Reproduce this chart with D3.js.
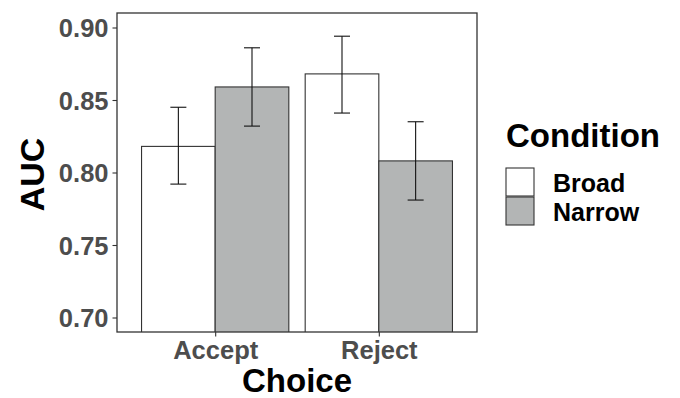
<!DOCTYPE html>
<html>
<head>
<meta charset="utf-8">
<script src="https://cdn.jsdelivr.net/npm/d3@7"></script>
<style>
  body { margin: 0; background: #fff; }
  text { font-family: "Liberation Sans", Arial, sans-serif; font-weight: bold; }
</style>
</head>
<body>
<svg id="chart" width="680" height="398"></svg>
<script>
// data
const choices = ['Accept', 'Reject'];
const conditions = ['Broad', 'Narrow'];
const auc = [[0.818, 0.859], [0.868, 0.808]];      // [choice][condition]
const lower = [[0.792, 0.832], [0.841, 0.781]];
const upper = [[0.845, 0.886], [0.894, 0.835]];
const yTicks = [0.70, 0.75, 0.80, 0.85, 0.90];

const fills = {Broad: '#ffffff', Narrow: '#b3b5b5'};
const panel = {left: 117, top: 13, right: 477, bottom: 332};

const svg = d3.select('#chart');

const x = d3.scalePoint()
    .domain(choices)
    .range([panel.left, panel.right])
    .padding(0.6);
const dodge = d3.scaleBand()
    .domain(conditions)
    .range([-x.step() * 0.45, x.step() * 0.45]);
const y = d3.scaleLinear()
    .domain([0.69, 0.91])
    .range([panel.bottom, panel.top]);

const rows = [];
choices.forEach((c, i) => conditions.forEach((k, j) => {
    rows.push({choice: c, condition: k, value: auc[i][j], lo: lower[i][j], hi: upper[i][j]});
}));

// clip bars to panel (bars start at 0, below the visible range)
svg.append('clipPath').attr('id', 'clip')
  .append('rect')
    .attr('x', panel.left).attr('y', panel.top)
    .attr('width', panel.right - panel.left)
    .attr('height', panel.bottom - panel.top);

const plot = svg.append('g').attr('clip-path', 'url(#clip)');

plot.selectAll('rect.bar')
  .data(rows)
  .join('rect')
    .attr('class', 'bar')
    .attr('x', d => x(d.choice) + dodge(d.condition))
    .attr('y', d => y(d.value))
    .attr('width', dodge.bandwidth())
    .attr('height', d => panel.bottom + 5 - y(d.value))
    .attr('fill', d => fills[d.condition])
    .attr('stroke', '#333333')
    .attr('stroke-width', 1.1);

// error bars
const capHalf = 8;
const errs = plot.selectAll('g.err')
  .data(rows)
  .join('g')
    .attr('class', 'err')
    .attr('transform', d => `translate(${x(d.choice) + dodge(d.condition) + dodge.bandwidth() / 2},0)`)
    .attr('stroke', '#111111')
    .attr('stroke-width', 1.1);
errs.append('line')
    .attr('y1', d => y(d.lo)).attr('y2', d => y(d.hi));
errs.append('line')
    .attr('x1', -capHalf).attr('x2', capHalf)
    .attr('y1', d => y(d.hi)).attr('y2', d => y(d.hi));
errs.append('line')
    .attr('x1', -capHalf).attr('x2', capHalf)
    .attr('y1', d => y(d.lo)).attr('y2', d => y(d.lo));

// panel border
svg.append('rect')
    .attr('x', panel.left).attr('y', panel.top)
    .attr('width', panel.right - panel.left)
    .attr('height', panel.bottom - panel.top)
    .attr('fill', 'none')
    .attr('stroke', '#333333')
    .attr('stroke-width', 1.3);

// axes
const yAxis = svg.append('g')
    .attr('transform', `translate(${panel.left},0)`)
    .call(d3.axisLeft(y).tickValues(yTicks).tickFormat(d3.format('.2f')).tickSize(4.5).tickPadding(4));
const xAxis = svg.append('g')
    .attr('transform', `translate(0,${panel.bottom})`)
    .call(d3.axisBottom(x).tickSize(4.5).tickPadding(4));

[yAxis, xAxis].forEach(a => {
    a.select('.domain').remove();
    a.selectAll('.tick line').attr('stroke', '#333333').attr('stroke-width', 1.1);
    a.selectAll('.tick text')
        .attr('fill', '#4d4d4d')
        .style('font-size', '25.5px');
});
yAxis.selectAll('.tick text').attr('dy', '0.36em');
xAxis.selectAll('.tick text').attr('dy', '0.74em');

// axis titles
svg.append('text')
    .attr('x', (panel.left + panel.right) / 2)
    .attr('y', 392)
    .attr('text-anchor', 'middle')
    .style('font-size', '33px')
    .text('Choice');
svg.append('text')
    .attr('transform', `translate(44,${(panel.top + panel.bottom) / 2 + 2}) rotate(-90)`)
    .attr('text-anchor', 'middle')
    .style('font-size', '34px')
    .text('AUC');

// legend
const legend = svg.append('g').attr('transform', 'translate(506,0)');
legend.append('text')
    .attr('x', 0).attr('y', 147)
    .style('font-size', '33px')
    .text('Condition');
const keys = legend.selectAll('g.key')
  .data(conditions)
  .join('g')
    .attr('class', 'key')
    .attr('transform', (d, i) => `translate(0,${168 + i * 29})`);
keys.append('rect')
    .attr('width', 28).attr('height', 28)
    .attr('fill', d => fills[d])
    .attr('stroke', '#333333')
    .attr('stroke-width', 1.1);
keys.append('text')
    .attr('x', 47).attr('y', 23.5)
    .style('font-size', '25px')
    .text(d => d);
</script>
</body>
</html>
